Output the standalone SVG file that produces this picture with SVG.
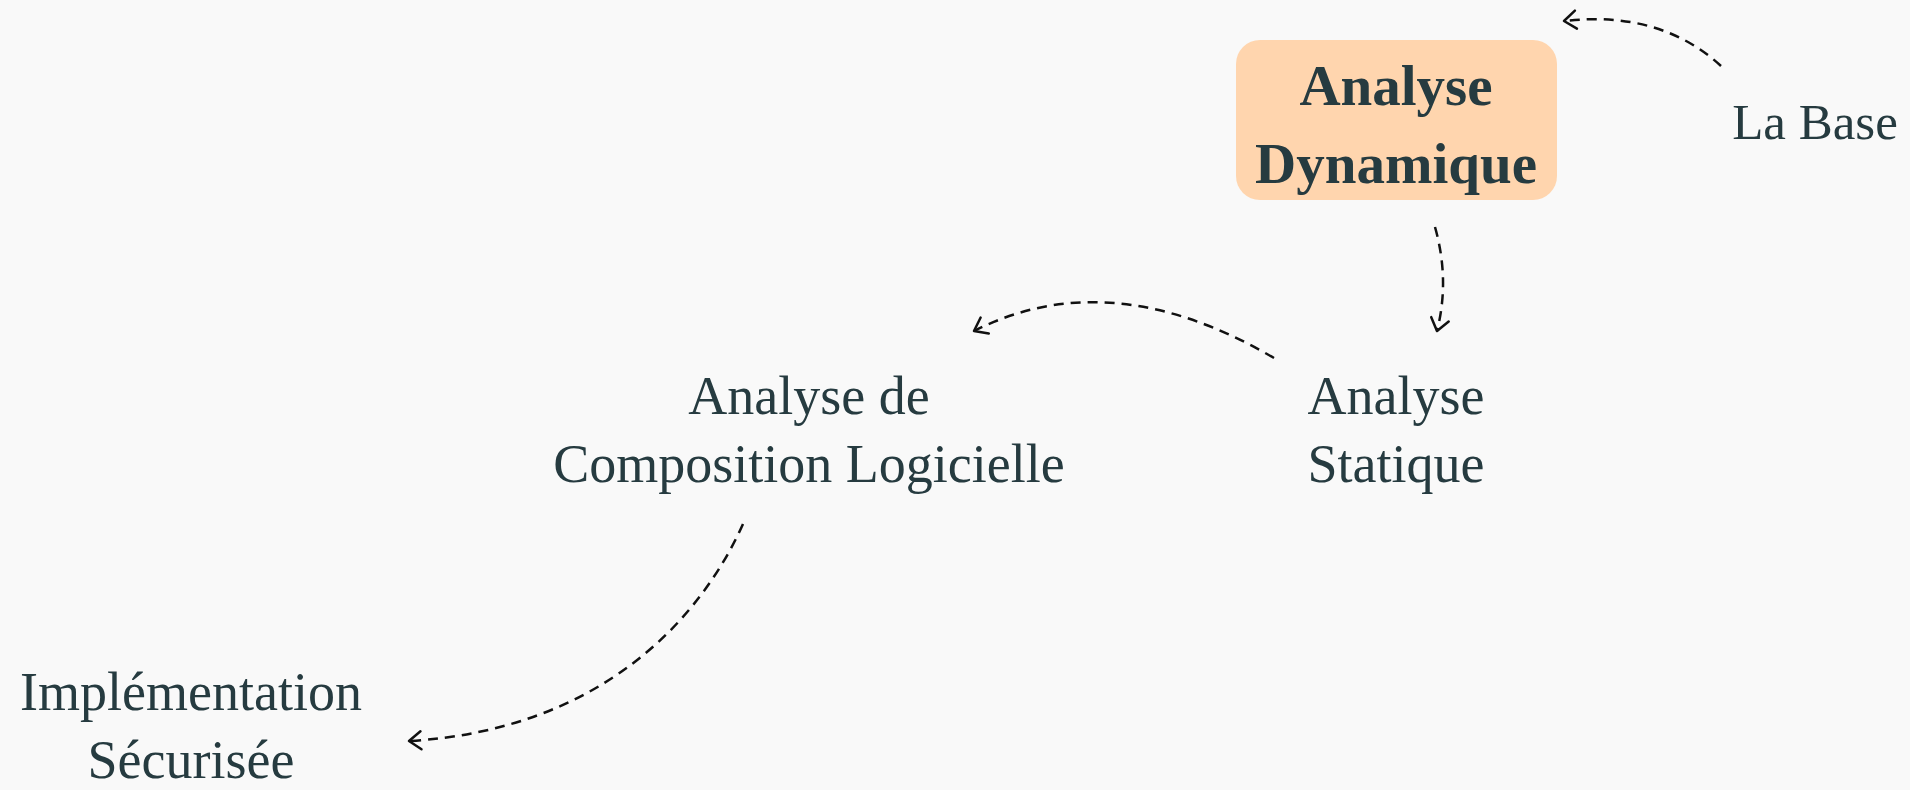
<svg xmlns="http://www.w3.org/2000/svg" width="1910" height="790" viewBox="0 0 1910 790">
<style>
.bg{fill:#f9f9f9}
.t{font-family:"Liberation Serif","Times New Roman",serif;font-size:54px;fill:#263b40;text-anchor:middle}
.b{font-weight:bold;font-size:57px}
.c{fill:none;stroke:#111;stroke-width:2.5;stroke-dasharray:10 7;marker-end:url(#ah)}
</style>
<defs>
<marker id="ah" viewBox="-15 -11 19 22" markerWidth="19" markerHeight="22" refX="0" refY="0" orient="auto" markerUnits="userSpaceOnUse">
<path d="M-12,-9 L0,0 L-12,9" fill="none" stroke="#111" stroke-width="2.5" stroke-linecap="round" stroke-linejoin="round"/>
</marker>
</defs>
<rect class="bg" x="0" y="0" width="1910" height="790"/>
<g id="connectors">
<path class="c" d="M1721,66 Q1660,10 1564,21"/>
<path class="c" d="M1435,227 Q1450,280 1437,331"/>
<path class="c" d="M1274,358 Q1110,262 974,331"/>
<path class="c" d="M743,524 C700,620 600,730 409,741"/>
</g>
<g id="analyse-dynamique">
<rect x="1236" y="40" width="321" height="160" rx="24" fill="#ffd5ae"/>
<text class="t b" x="1396" y="105">Analyse</text>
<text class="t b" x="1396" y="183">Dynamique</text>
</g>
<g id="la-base">
<text class="t" x="1815" y="139" style="font-size:51px">La Base</text>
</g>
<g id="analyse-statique">
<text class="t" x="1396" y="414">Analyse</text>
<text class="t" x="1396" y="482">Statique</text>
</g>
<g id="analyse-composition">
<text class="t" x="809" y="414">Analyse de</text>
<text class="t" x="809" y="482">Composition Logicielle</text>
</g>
<g id="implementation">
<text class="t" x="191" y="710">Implémentation</text>
<text class="t" x="191" y="778">Sécurisée</text>
</g>
</svg>
